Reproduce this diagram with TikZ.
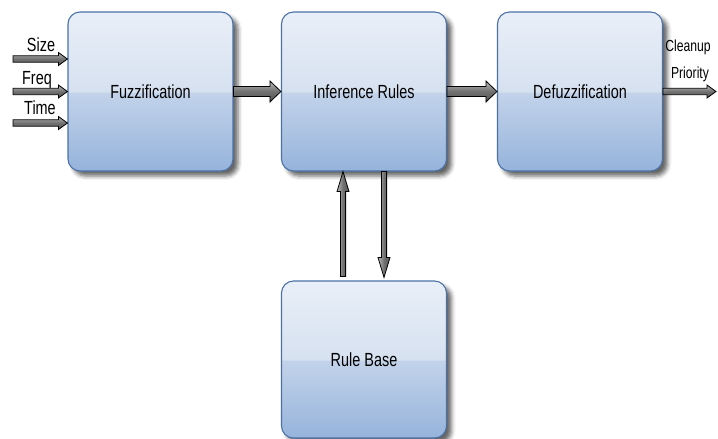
\documentclass[tikz,border=0pt]{standalone}
\usepackage{fontspec}
\setmainfont{Liberation Sans}[FakeStretch=0.76]
\usetikzlibrary{calc,shadows.blur}
\definecolor{bT}{HTML}{E9EFF8}
\definecolor{bM1}{HTML}{D6E1F0}
\definecolor{bM2}{HTML}{C2D3EA}
\definecolor{bB}{HTML}{96B3DB}
\definecolor{bEdge}{HTML}{4A72A8}
\definecolor{aL}{HTML}{B8B8B8}
\definecolor{aM}{HTML}{707070}
\definecolor{aD}{HTML}{555555}
\pgfdeclareverticalshading{boxgloss}{100bp}{color(0bp)=(bB); color(25bp)=(bB); color(49.6bp)=(bM2); color(50bp)=(bM1); color(75bp)=(bT); color(100bp)=(bT)}
\pgfdeclareverticalshading{arrgloss}{100bp}{color(0bp)=(aD); color(25bp)=(aD); color(50bp)=(aM); color(75bp)=(aL); color(100bp)=(aL)}
\newcommand{\fatarrow}[6]{%
  \coordinate (hb) at ($(#2)!#5!(#1)$);
  \draw[#6] ($(#1)!#3!90:(#2)$) -- ($(hb)!#3!90:(#2)$) -- ($(hb)!#4!90:(#2)$) -- (#2) -- ($(hb)!#4!-90:(#2)$) -- ($(hb)!#3!-90:(#2)$) -- ($(#1)!#3!-90:(#2)$) -- cycle;}
\begin{document}
\begin{tikzpicture}[x=1pt,y=-1pt,
  blockbox/.style={draw=bEdge, line width=1.1pt, rounded corners=12pt, shade, shading=boxgloss,
    minimum width=165pt, minimum height=159pt, inner sep=0pt,
    blur shadow={shadow xshift=5pt, shadow yshift=-5pt, shadow blur radius=4pt, shadow opacity=60},
    font=\fontsize{19}{22}\selectfont},
  fatarr/.style={draw=black, line width=0.8pt, line join=miter, shade, shading=arrgloss},
  vfatarr/.style={draw=black, line width=0.8pt, line join=miter, shade, shading=arrgloss, shading angle=90},
  inlabel/.style={inner sep=0pt, font=\fontsize{19}{21}\selectfont},
  outlabel/.style={inner sep=0pt, font=\fontsize{16}{18}\selectfont}]
\useasboundingbox (0,0) rectangle (718,439);
\node[blockbox] (fz)  at (150.5,91.5) {Fuzzification};
\node[blockbox] (inf) at (364,91.5) {Inference Rules};
\node[blockbox] (dfz) at (580,91.5) {Defuzzification};
\node[blockbox, minimum height=157pt] (rb) at (364,359.5) {Rule Base};
% inputs
\coordinate (sizeS) at (13,59);
\coordinate (freqS) at (13,91.5);
\coordinate (timeS) at (13,123);
\coordinate (sizeE) at (fz.west |- sizeS);
\coordinate (timeE) at (fz.west |- timeS);
\fatarrow{sizeS}{sizeE}{3.2pt}{6.5pt}{9pt}{fatarr}
\fatarrow{freqS}{fz.west}{3.2pt}{6.5pt}{9pt}{fatarr}
\fatarrow{timeS}{timeE}{3.2pt}{6.5pt}{9pt}{fatarr}
\node[inlabel] (lsize) at (41,45) {Size};
\node[inlabel] (lfreq) at (37,80) {Freq};
\node[inlabel] (ltime) at (40,108) {Time};
% main flow
\fatarrow{fz.east}{inf.west}{5pt}{10.5pt}{11pt}{fatarr}
\fatarrow{inf.east}{dfz.west}{5pt}{10.5pt}{11pt}{fatarr}
% output
\coordinate (outE) at (716,91.5);
\fatarrow{dfz.east}{outE}{3.2pt}{6.5pt}{9pt}{fatarr}
\node[outlabel] (lclean) at (688,47) {Cleanup};
\node[outlabel] (lprio) at (690,74) {Priority};
% rule base links
\coordinate (upS) at ($(rb.north)+(-21,-4)$);
\coordinate (upE) at (upS |- inf.south);
\coordinate (dnS) at ($(inf.south)+(20,0)$);
\coordinate (dnE) at ($(rb.north)+(20,-3)$);
\fatarrow{upS}{upE}{2.6pt}{6pt}{20pt}{vfatarr}
\fatarrow{dnS}{dnE}{2.6pt}{6pt}{20pt}{vfatarr}
\end{tikzpicture}
\end{document}
